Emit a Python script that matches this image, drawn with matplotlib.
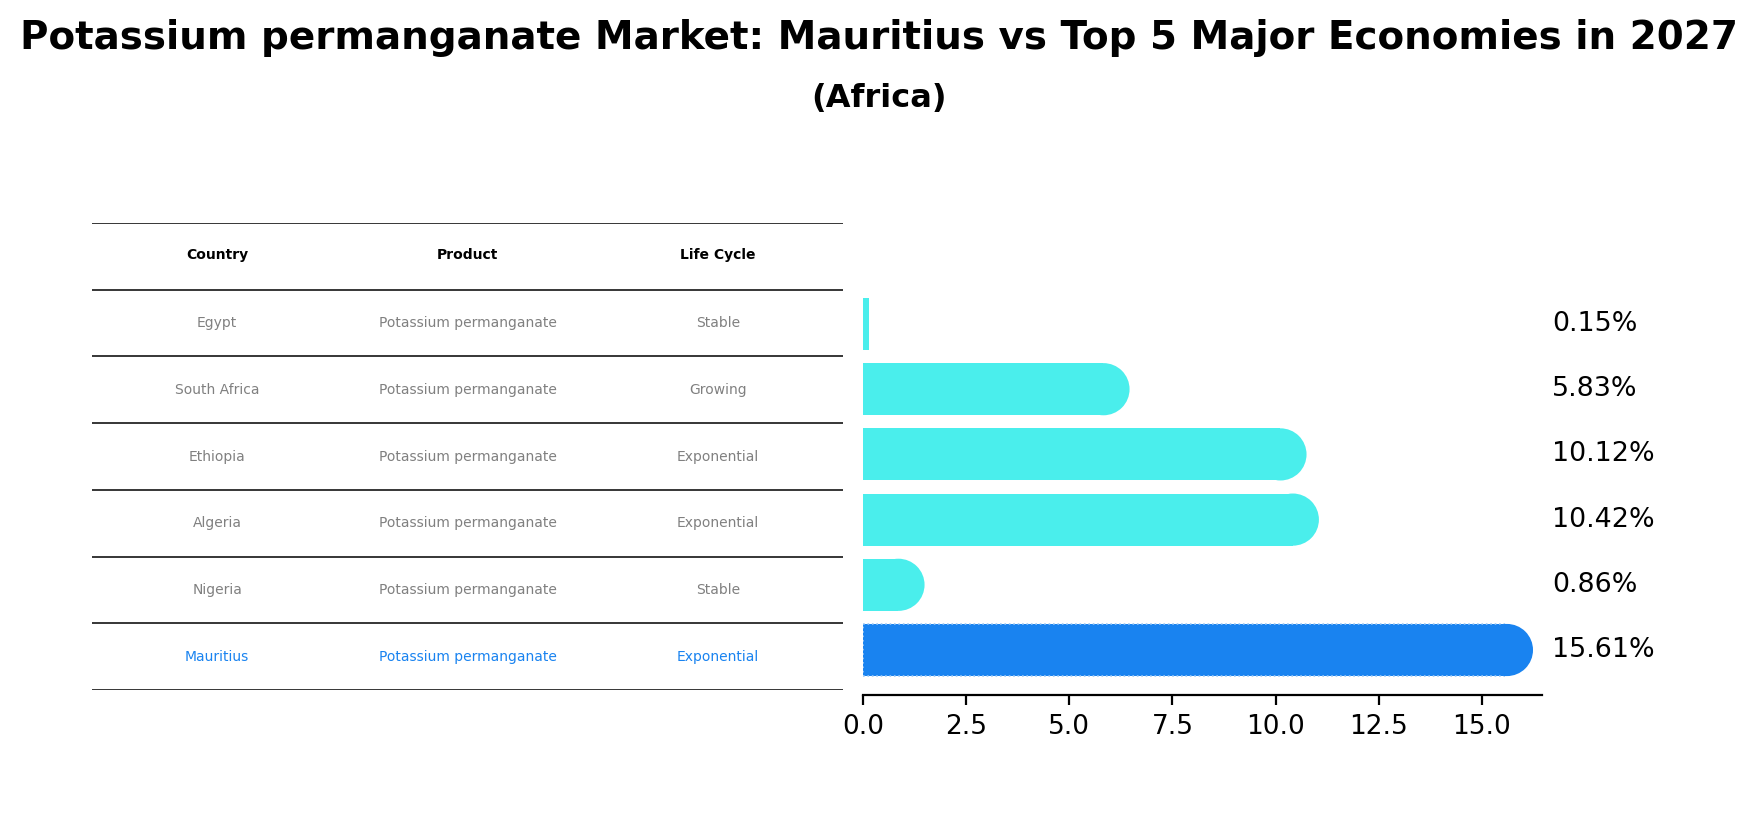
import matplotlib.pyplot as plt
from matplotlib.patches import Ellipse
import numpy as np

# data
countries = ['Egypt', 'South Africa', 'Ethiopia', 'Algeria', 'Nigeria', 'Mauritius']
products = ['Potassium permanganate'] * 6
life_cycle = ['Stable', 'Growing', 'Exponential', 'Exponential', 'Stable', 'Exponential']
growth = [0.15, 5.83, 10.12, 10.42, 0.86, 15.61]
headers = ['Country', 'Product', 'Life Cycle']

cyan = '#4aeeec'
blue = '#1983f0'
grey = '#808080'

fig = plt.figure(figsize=(8.785, 4.115), dpi=200)

fig.text(0.5, 1 - 38 / 823, 'Potassium permanganate Market: Mauritius vs Top 5 Major Economies in 2027',
         ha='center', va='center', fontsize=14, fontweight='bold')
fig.text(0.5, 1 - 98 / 823, '(Africa)', ha='center', va='center', fontsize=11.5, fontweight='bold')

# table on the left
tab = fig.add_axes([92 / 1757, 1 - 690 / 823, 751 / 1757, 467 / 823])
tab.set_xlim(0, 3)
tab.set_ylim(0, 7)
tab.axis('off')
for k in range(8):
    tab.axhline(k, color='black', lw=0.55)
for j, h in enumerate(headers):
    tab.text(j + 0.5, 6.52, h, ha='center', va='center', fontsize=5, fontweight='bold')
for i in range(6):
    col = blue if countries[i] == 'Mauritius' else grey
    yy = 5.5 - i
    row = [countries[i], products[i], life_cycle[i]]
    for j, txt in enumerate(row):
        tab.text(j + 0.5, yy, txt, ha='center', va='center', fontsize=5, color=col)

# bars on the right
ax = fig.add_axes([863 / 1757, 1 - 695 / 823, (1541.7 - 863) / 1757, (695 - 279) / 823])
ypos = np.arange(len(countries))[::-1]
xmax = max(growth) * 1.054
ax.set_xlim(0, xmax)
ax.set_ylim(-0.69, 5.69)

p0 = ax.transData.transform((0, 0))
p1 = ax.transData.transform((1, 0.4))
rx = (p1[1] - p0[1]) / (p1[0] - p0[0])

for c, v, y in zip(countries, growth, ypos):
    if c == 'Mauritius':
        ax.barh(y, v, height=0.8, color=blue, edgecolor='#9cc8f5', linestyle=':', linewidth=0.6)
        fc = blue
    else:
        ax.barh(y, v, height=0.8, color=cyan)
        fc = cyan
    if v > rx:
        ax.add_patch(Ellipse((v, y), 2 * rx, 0.8, facecolor=fc, edgecolor='none'))
    ax.text(1.015, y, f'{v:.2f}%', transform=ax.get_yaxis_transform(),
            ha='left', va='center', fontsize=9.7)

ax.set_xticks(np.arange(0, 16, 2.5))
ax.tick_params(axis='x', labelsize=9.5)
ax.set_yticks([])
for s in ['top', 'right', 'left']:
    ax.spines[s].set_visible(False)

fig.savefig('out.png', dpi=200)
